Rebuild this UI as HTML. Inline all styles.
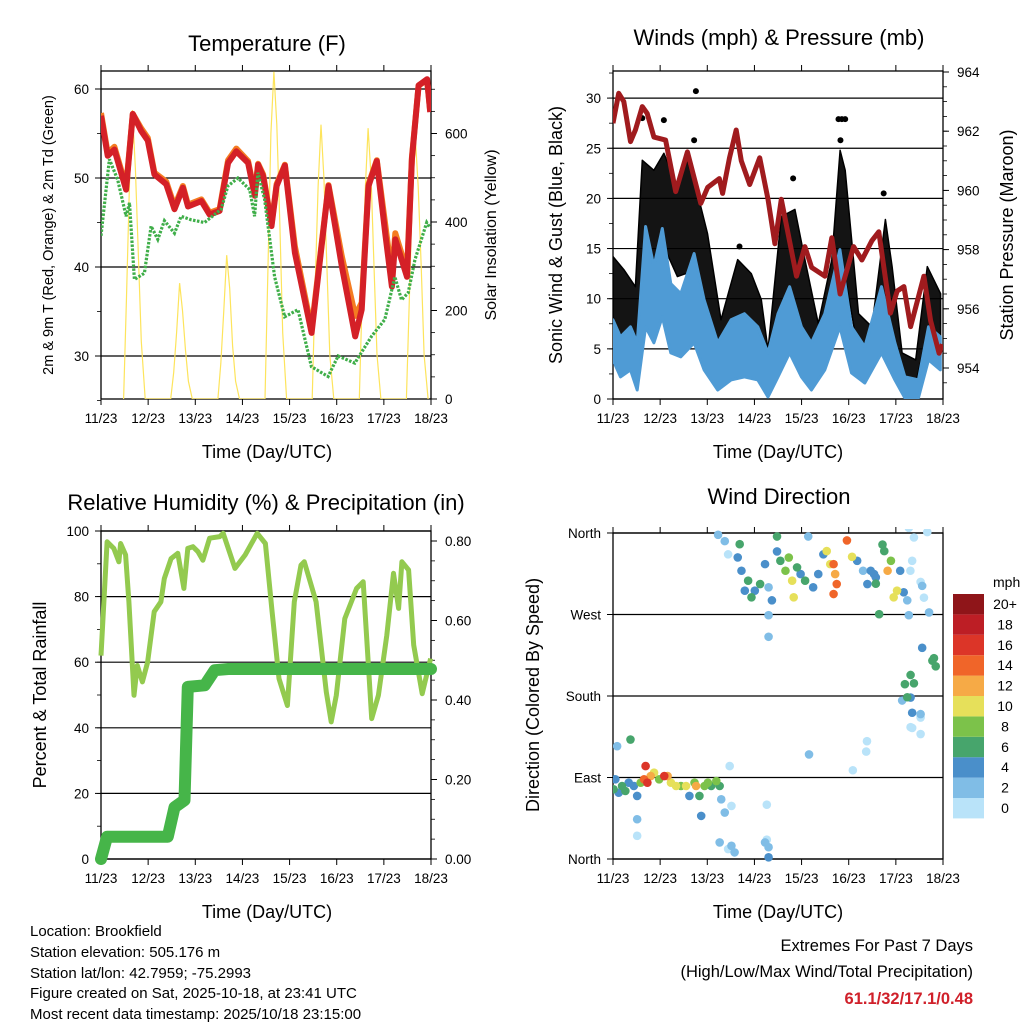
<!DOCTYPE html>
<html><head><meta charset="utf-8"><style>
html,body{margin:0;padding:0;background:#fff;}
svg{display:block;font-family:"Liberation Sans",sans-serif;}
</style></head><body>
<svg id="s" width="1024" height="1024" viewBox="0 0 1024 1024" xmlns="http://www.w3.org/2000/svg">
<defs>
<clipPath id="c1"><rect x="101" y="71" width="330" height="328"/></clipPath>
<clipPath id="c2"><rect x="613" y="71" width="330" height="328"/></clipPath>
<clipPath id="c3"><rect x="95" y="525" width="345" height="340"/></clipPath>
<clipPath id="c4"><rect x="613" y="529" width="334" height="334"/></clipPath>
</defs>
<g font-size="22" text-anchor="middle" fill="#000">
<text x="267" y="51">Temperature (F)</text>
<text x="779" y="45">Winds (mph) &amp; Pressure (mb)</text>
<text x="266" y="510">Relative Humidity (%) &amp; Precipitation (in)</text>
<text x="779" y="504">Wind Direction</text>
</g>
<g font-size="18" text-anchor="middle">
<text x="267" y="458">Time (Day/UTC)</text>
<text x="778" y="458">Time (Day/UTC)</text>
<text x="267" y="918">Time (Day/UTC)</text>
<text x="778" y="918">Time (Day/UTC)</text>
<text transform="translate(53,235) rotate(-90)" font-size="14.5">2m &amp; 9m T (Red, Orange) &amp; 2m Td (Green)</text>
<text transform="translate(496,235) rotate(-90)" font-size="16">Solar Insolation (Yellow)</text>
<text transform="translate(562,235) rotate(-90)">Sonic Wind &amp; Gust (Blue, Black)</text>
<text transform="translate(1013,235) rotate(-90)">Station Pressure (Maroon)</text>
<text transform="translate(46,695) rotate(-90)">Percent &amp; Total Rainfall</text>
<text transform="translate(539,695) rotate(-90)">Direction (Colored By Speed)</text>
</g>
<g font-size="15">
<text x="30" y="936">Location: Brookfield</text>
<text x="30" y="957">Station elevation: 505.176 m</text>
<text x="30" y="978">Station lat/lon: 42.7959; -75.2993</text>
<text x="30" y="998">Figure created on Sat, 2025-10-18, at 23:41 UTC</text>
<text x="30" y="1019">Most recent data timestamp: 2025/10/18 23:15:00</text>
<text x="973" y="951" font-size="16.5" text-anchor="end">Extremes For Past 7 Days</text>
<text x="973" y="977" font-size="16.5" text-anchor="end">(High/Low/Max Wind/Total Precipitation)</text>
<text x="973" y="1004" font-size="16.5" font-weight="bold" fill="#d0202a" text-anchor="end">61.1/32/17.1/0.48</text>
</g>
</svg>
<script>
const dayLabels=["11/23","12/23","13/23","14/23","15/23","16/23","17/23","18/23"];
const tempTicks=[30,40,50,60];
const solarTicks=[0,200,400,600];
const windTicks=[0,5,10,15,20,25,30];
const presTicks=[954,956,958,960,962,964];
const rhTicks=[0,20,40,60,80,100];
const rainTicks=["0.00","0.20","0.40","0.60","0.80"];
const dirTicks=["North","East","South","West","North"];
const speedBins=["0","2","4","6","8","10","12","14","16","18","20+"];
const speedColors=["#b9e3f9","#80bde6","#4a8fca","#47a56c","#7cc24a","#e6e05a","#f6aa46","#f06529","#dc3528","#bd1e25","#8f1519"];

const redH=[0,3.4,6.8,12.8,16.2,20.4,23.8,27.2,33.2,37.4,41.7,44.3,51.1,55.3,60.4,64.7,68.9,74.9,78.3,80,82.5,86.8,89.4,93.6,98.7,107.2,115.8,122.6,129.4,132.7,136.2,140.4,144.7,148.1,149.8,155.8,158.3,161.7,166,167.6];
const redV=[57,52.5,53.2,48.7,57.2,55.3,54.2,50.4,49.3,46.5,48.9,46.8,47.4,45.9,46.3,51.7,53,51.7,48,51.5,50.2,44.6,49.1,51.4,41.6,32.6,49.1,40.1,32.2,35.2,49.1,51.9,43.8,37.8,43.1,38.9,52.1,60.4,61.1,57.4];
const orangeH=[0,3.4,6.8,12.8,16.2,20.4,23.8,27.2,33.2,37.4,41.7,44.3,51.1,55.3,60.4,64.7,68.9,74.9,78.3,80,82.5,86.8,89.4,93.6,98.7,107.2,115.8,122.6,129.4,132.7,136.2,140.4,144.7,148.1,149.8,155.8,158.3,161.7,166,167.6];
const orangeV=[57.3,52.8,53.5,49,57.2,55.6,54.5,50.6,49.6,46.8,49.1,47,47.6,46.1,46.5,52,53.3,51.9,48.2,51.6,50.4,44.8,49.3,51.5,42.3,33,49.2,41.2,34.5,36,49.3,52,44.8,39,43.8,39.5,52.3,60.4,61,57.5];
const dewH=[0,4.3,8.5,12.8,14.5,17,22.1,25.5,28.9,32.3,37.4,40.8,45.9,52.7,61.2,64.6,69.7,75.7,78.2,79.9,83.3,88.4,93.5,100.3,107.1,115.6,120.7,129.2,137.7,144.5,149.6,153,156.4,159.8,165.8,167.5];
const dewV=[43.5,52.1,49.8,45.7,47.2,38.6,39.3,44.6,43.1,45.2,43.8,45.7,45.3,45,46.5,49.1,50,48.7,45.7,50.6,47.6,38.9,34.4,35.2,28.8,27.7,30,29.2,32.2,34.1,38.9,36.3,37.1,40.8,45,44.4];
const solarH=[11.5,13,14.5,16,17.5,19,20.5,22.5,35.5,37,38.5,40,41.5,43,44.5,46.5,59.5,61,62.5,64,65.5,67,68.5,70.5,83.5,85,86.5,88,89.5,91,92.5,94.5,107.5,109,110.5,112,113.5,115,116.5,118.5,131.5,133,134.5,136,137.5,139,140.5,142.5,155.5,157,158.5,160,161.5,163,164.5,166.5];
const solarV=[0,230,490,653,520,330,130,0,0,60,150,262,200,110,40,0,0,80,200,325,250,120,40,0,0,300,600,740,620,400,150,0,0,250,480,620,500,300,100,0,0,240,470,612,500,300,100,0,0,230,460,592,480,300,100,0];

const windH=[0,3.8,8.9,12.3,16.6,20.8,25.1,29.4,34.5,41.3,46.4,53.3,60.1,66.9,73.7,78.9,84,89.9,95.9,101,107.8,115.5,121.4,128.2,136.7,143.5,148.6,155.5,160.6,166.6];
const windHi=[7.9,6.2,7.2,5.6,17.2,13.2,17,11.5,10.5,14.5,9.9,5.6,7.9,8.5,7.2,4.6,8.5,11.2,7.2,5.6,8.5,14.9,7.2,5.2,11.2,5.6,2.2,1.9,7.2,6.2];
const windLo=[3.9,2.2,2.9,0.9,7.2,5.6,8.2,4.6,4.2,5.6,2.9,0.9,1.9,2.2,1.9,0.2,2.2,4.6,2.2,0.9,2.9,7.2,2.6,1.6,4.6,1.9,0.1,0.1,3.9,2.9];
const gustH=[0,5.5,11.4,14.9,20.8,25.9,32.8,37.1,43,48.1,55,63.5,70.4,75.5,78.9,85.7,92.6,97.7,104.5,111.4,115.6,118.2,125,131.8,138.7,142.1,147.2,154.1,160,166.8];
const gustHi=[14.2,12.9,11.2,23.8,22.8,24.5,21.2,24.2,20.5,16.5,7.9,13.9,12.5,9.9,4.9,18.2,18.9,13.9,7.5,13.9,24.8,22.8,8.5,7.2,17.9,13.2,4.6,3.9,13.2,10.5];
const gustLo=[7.2,6.2,4.6,9.9,13.9,15.2,12.2,12.5,9.9,6.6,3.2,6.2,5.6,3.9,1.2,7.2,8.9,5.6,3.9,6.6,14.5,12.2,4.6,3.9,10.5,6.6,1.9,1.6,6.6,4.6];
const gustOutH=[42.2,14.9,25.9,41.3,114.8,116.5,118.2,115.8,91.7,137.8,64.4];
const gustOutV=[30.7,28,27.8,25.8,27.9,27.9,27.9,25.8,22,20.5,15.2];
const presH=[0,2.9,5.5,8.9,11.4,14.9,17.4,20.8,26.8,31.9,37.9,44.7,48.2,54.1,55.8,59.3,62.7,65.3,69.6,74.7,78.9,82.4,85.7,93.4,97.7,101.1,107.9,111.4,115.6,122.5,126.7,131.8,135.3,141.2,144.7,148.1,151.5,158.3,161.7,166,167.7];
const presV=[962.27,963.28,963,961.65,962.04,962.83,962.6,961.8,961.7,959.96,961.3,959.56,960.1,960.4,959.9,961.1,962.04,961,960.2,961.1,959.7,958.2,959.7,957.1,958.1,957.4,957.1,958.4,956.5,958.1,957.65,958.3,958.6,955.85,956.6,956.75,955.4,957.1,955.6,954.5,954.8];

const rhH=[0,3.1,6.5,9.1,10,12.5,14.2,16.8,18.5,21.1,23.7,27.1,30.5,32.2,35.7,39.1,42.2,44.2,46.8,49.4,51.9,55.3,60.5,62.2,68.2,73.4,79.5,83.7,87.1,90.6,94.9,98.4,101.8,103.5,109.5,114.7,117.2,119.8,124.1,130.1,133.5,137.8,141.2,145.5,148.9,151.5,153.2,156.6,159.2,163.5,167.8];
const rhV=[62,96.7,94.7,90.6,96.2,92.7,78.4,49.9,59,54,60,75.4,78.4,85.5,91.6,93.2,82.5,94.7,95.2,93.7,91.1,97.8,98.3,99.3,88.6,92.7,99.3,96.2,75.4,55,46.8,78.4,89.6,90.6,78.4,50.9,41.8,49.9,73.3,82.5,84.5,42.8,49.9,68.2,87.1,76.4,90.6,88.1,65.2,50.4,61.1];
const rainH=[0,3.1,34,37.4,42.5,44.2,52.8,57.9,64.8,168];
const rainV=[0,0.056,0.056,0.13,0.148,0.433,0.437,0.475,0.478,0.478];

const dirH=[0.3,1.2,2.1,2.9,4.6,6.3,8,8.9,10.6,12.3,12.3,12.3,14.1,15.8,16.6,17.5,19.2,20.9,23.5,26.1,27.8,29.5,32.1,34.6,37.2,38.9,41.5,42.3,44,44.9,46.6,48.3,50,52.6,54.3,55.1,56.9,54.3,58.6,60.3,61.9,59.4,60.3,53.5,56.9,58.6,63.5,64.5,65.4,67.1,68.8,70.5,72.2,74.9,77.4,79.2,79.2,79.2,80.9,83.5,83.5,85.2,87.8,89.5,91.2,92,93.7,95.5,97.8,99.4,101.9,104.5,107.1,108.8,110.6,112.3,113.1,113.9,112.3,119.1,121.7,124.3,127.3,129.5,131.2,132.9,133.8,133.8,135.5,137.2,138.1,139.8,141.5,142.9,144.6,146.2,148,149.8,150.6,151.4,150.6,152.3,153.2,156.6,158.3,160,157.4,160.9,157.4,162.6,163.4,164.3,151.5,153.2,148.6,151.5,152.3,149.8,156.6,147.2,156.6,151.5,152.3,156.6,129.3,99.8,122.1,128.9,78.3,78.3,79.2,79.2,77.4];
const dirV=[77,88,124.6,73.2,80.6,75.1,84.3,131.9,80.6,69.6,43.9,25.6,84.3,88,102.6,84.3,91.6,95.3,88,91.6,91.6,84.3,80.6,80.6,80.6,69.6,84.3,80.6,69.6,47.6,80.6,84.3,80.6,86.1,80.6,65.9,51.3,18.3,11,14.6,7.3,102.6,58.6,358,351,336.4,333,347.6,318.3,296.3,307.3,289,296.3,303.6,325.6,300,269.2,245.4,285.6,356.1,339.6,329.3,318.3,332.9,307.3,289,322,314.6,307.3,356.1,300,314.6,336.4,340,325.6,325.6,314.6,303.6,292.6,351.8,333.7,329.3,318.3,303.6,318.3,314.6,311,304,270.3,347.2,340,318.3,329.3,289,296.3,318.3,294.5,285.6,269.2,318.3,365.7,329.3,355,305.9,288.6,361,301.6,272.3,233.2,219,221.8,212.8,203.2,194,193,178.3,161.5,178.6,160,175,156.2,145.6,144.7,138,130.1,115.5,98,118.6,60,21.3,13,1.9,18.3,3.7];
const dirS=[6,5,3,4,6,6,5,6,5,4,2,1,8,14,16,16,12,10,9,16,12,11,10,9,10,4,8,13,6,4,9,8,7,8,6,3,2,2,1,3,2,1,1,3,3,1,4,6,4,5,6,6,5,6,4,3,2,2,4,6,4,7,8,9,10,10,7,5,6,2,4,5,4,10,11,14,12,14,15,15,10,4,3,4,5,4,4,6,7,6,6,12,8,10,10,4,4,2,2,1,1,1,1,1,1,1,2,2,4,7,6,7,7,6,6,5,5,6,2,2,1,1,1,1,1,3,1,1,1,1,3,4,2,3,1,1,1];

const S=document.getElementById('s');
const NS="http://www.w3.org/2000/svg";
function mk(tag,attrs,parent){const e=document.createElementNS(NS,tag);for(const k in attrs)e.setAttribute(k,attrs[k]);(parent||S).appendChild(e);return e;}
function xAx(p){return h=>p.x0+h/168*(p.x1-p.x0);}
const P1={x0:101,x1:431,y0:71,y1:399},P2={x0:613,x1:943,y0:71,y1:399},P3={x0:101,x1:431,y0:531,y1:859},P4={x0:613,x1:943,y0:533,y1:859};
const yT=v=>356-(v-30)*8.9, yS=v=>399-v*0.4425, yW=v=>399-v*10.03, yP=v=>368-(v-954)*29.6, yR=v=>859-v*3.28, yQ=v=>859-v*397.5, yD=v=>859-v*0.9056;
function pts(H,V,xf,yf){return H.map((h,i)=>xf(h).toFixed(1)+","+yf(V[i]).toFixed(1)).join(" ");}

function frame(p,name,leftVals,leftLabels,yl,minorL,rightVals,rightLabels,yr,minorR,grid){
  const g=mk('g',{});
  
  
  const xf=xAx(p);
  leftVals.forEach((v,i)=>{const y=yl(v);
    if(grid){const l=mk('line',{x1:p.x0,x2:p.x1,y1:y,y2:y,stroke:'#000','stroke-width':1.2},g);
      
      }
    mk('line',{x1:p.x0-6,x2:p.x0,y1:y,y2:y,stroke:'#000'},g);
    const t=mk('text',{x:p.x0-12,y:y+5,'font-size':13.5,'text-anchor':'end'},g);t.textContent=leftLabels[i];
    
    });
  minorL.forEach(v=>{const y=yl(v);mk('line',{x1:p.x0-4,x2:p.x0,y1:y,y2:y,stroke:'#000','stroke-width':0.8},g);});
  rightVals.forEach((v,i)=>{const y=yr(v);
    mk('line',{x1:p.x1,x2:p.x1+6,y1:y,y2:y,stroke:'#000'},g);
    const t=mk('text',{x:p.x1+14,y:y+5,'font-size':13.5},g);t.textContent=rightLabels[i];
    
    });
  minorR.forEach(v=>{const y=yr(v);mk('line',{x1:p.x1,x2:p.x1+4,y1:y,y2:y,stroke:'#000','stroke-width':0.8},g);});
  dayLabels.forEach((d,i)=>{const x=xf(i*24);
    mk('line',{x1:x,x2:x,y1:p.y1,y2:p.y1+6,stroke:'#000'},g);
    mk('line',{x1:x,x2:x,y1:p.y0-6,y2:p.y0,stroke:'#000'},g);
    const t=mk('text',{x:x,y:p.y1+24,'font-size':13.5,'text-anchor':'middle'},g);t.textContent=d;
    
    });
  const r=mk('rect',{x:p.x0,y:p.y0,width:p.x1-p.x0,height:p.y1-p.y0,fill:'none',stroke:'#000','stroke-width':1.3},g);
  
  
}
function range(a,b,s){const r=[];for(let v=a;v<=b+1e-9;v+=s)r.push(v);return r;}

// Panel 1
frame(P1,'temp',tempTicks,tempTicks.map(String),yT,range(25,60,5),solarTicks,solarTicks.map(String),yS,range(0,700,50),true);
const g1=mk('g',{'clip-path':'url(#c1)'});
let e;
e=mk('polyline',{points:pts(solarH,solarV,xAx(P1),yS),fill:'none',stroke:'#fde45c','stroke-width':1.2},g1);


e=mk('polyline',{points:pts(orangeH,orangeV,xAx(P1),yT),fill:'none',stroke:'#f47c22','stroke-width':6,'stroke-linejoin':'round'},g1);


e=mk('polyline',{points:pts(redH,redV,xAx(P1),yT),fill:'none',stroke:'#d42027','stroke-width':6,'stroke-linejoin':'round'},g1);


e=mk('polyline',{points:pts(dewH,dewV,xAx(P1),yT),fill:'none',stroke:'#3fae49','stroke-width':3.2,'stroke-dasharray':'2.5 1.5'},g1);



// Panel 2
frame(P2,'wind',windTicks,windTicks.map(String),yW,range(0,32.5,2.5),presTicks,presTicks.map(String),yP,range(953.5,964,0.5),true);
const g2=mk('g',{'clip-path':'url(#c2)'});
const xf2=xAx(P2);
e=mk('polygon',{points:pts(gustH,gustHi,xf2,yW)+" "+pts(gustH.slice().reverse(),gustLo.slice().reverse(),xf2,yW),fill:'#000','fill-opacity':0.92,'stroke':'#000','stroke-width':1.5,'stroke-linejoin':'round'},g2);


gustOutH.forEach((h,i)=>{const c=mk('circle',{cx:xf2(h),cy:yW(gustOutV[i]),r:3,fill:'#000'},g2);
  
  });
e=mk('polygon',{points:pts(windH,windHi,xf2,yW)+" "+pts(windH.slice().reverse(),windLo.slice().reverse(),xf2,yW),fill:'#4f9bd5',stroke:'#4f9bd5','stroke-width':3,'stroke-linejoin':'round'},g2);


e=mk('polyline',{points:pts(presH,presV,xf2,yP),fill:'none',stroke:'#a01b1e','stroke-width':5,'stroke-linejoin':'round'},g2);



// Panel 3
const rainVals=rainTicks.map(Number);
frame(P3,'rh',rhTicks,rhTicks.map(String),yR,range(0,100,10),rainVals,rainTicks,yQ,range(0,0.8,0.05),true);
const g3=mk('g',{'clip-path':'url(#c3)'});
const xf3=xAx(P3);
e=mk('polyline',{points:pts(rhH,rhV,xf3,yR),fill:'none',stroke:'#93ca4f','stroke-width':5,'stroke-linejoin':'round'},g3);


e=mk('polyline',{points:pts(rainH,rainV,xf3,yQ),fill:'none',stroke:'#46b549','stroke-width':12,'stroke-linejoin':'round','stroke-linecap':'round'},g3);



// Panel 4
frame(P4,'dir',[0,90,180,270,360],dirTicks,yD,[],[],[],yD,[],true);
const g4=mk('g',{'clip-path':'url(#c4)'});
const xf4=xAx(P4);
const order=dirS.map((s,i)=>i).sort((a,b)=>dirS[a]-dirS[b]);
order.forEach(i=>{const bin=Math.min(10,Math.floor(dirS[i]/2));
  const c=mk('circle',{cx:xf4(dirH[i]),cy:yD(dirV[i]),r:4.3,fill:speedColors[bin]},g4);
  
  });
// colorbar
const cb=mk('g',{});


const t0=mk('text',{x:993,y:587,'font-size':14},cb);t0.textContent='mph';


speedBins.forEach((b,i)=>{const y=798-i*20.4;
  const r=mk('rect',{x:953,y:y,width:31,height:20.4,fill:speedColors[i]},cb);
  
  
  const t=mk('text',{x:1005,y:y+15,'font-size':14,'text-anchor':'middle'},cb);t.textContent=b;
  
  });
</script>
</body></html>
